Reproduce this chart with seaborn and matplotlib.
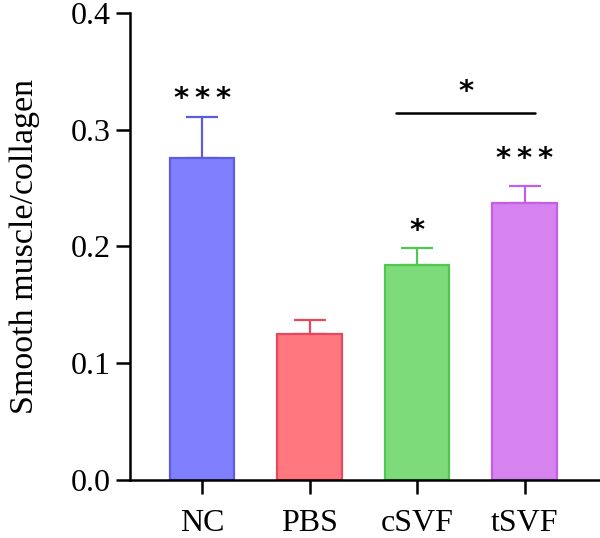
import matplotlib
matplotlib.use('Agg')
import matplotlib.pyplot as plt
import pandas as pd
import seaborn as sns

# 数据
groups = ['NC', 'PBS', 'cSVF', 'tSVF']
means = [0.276, 0.125, 0.184, 0.237]
sems = [0.035, 0.012, 0.015, 0.015]
stars = ['*\u2009*\u2009*', '', '*', '*\u2009*\u2009*']
fills = ['#8080ff', '#ff7880', '#7ddb7a', '#d683f0']
edges = ['#5c5ce3', '#e8485e', '#4fc84f', '#c35ee6']

sns.set_style('ticks')
plt.rcParams['font.family'] = ['Liberation Serif', 'DejaVu Serif']
plt.rcParams['text.color'] = 'black'
plt.rcParams['xtick.color'] = 'black'
plt.rcParams['ytick.color'] = 'black'
plt.rcParams['axes.labelcolor'] = 'black'

df = pd.DataFrame({'group': groups, 'value': means})

fig = plt.figure(figsize=(6, 5.38), dpi=100)
ax = fig.add_axes([0.2167, 0.108, 0.7833, 0.868])

sns.barplot(data=df, x='group', y='value', hue='group', palette=fills,
            saturation=1, width=0.6, errorbar=None, legend=False, ax=ax, zorder=2)
for patch, ec in zip(ax.patches, edges):
    patch.set_edgecolor(ec)
    patch.set_linewidth(1.6)

# 星号离误差线顶端的距离
star_gap = [0.008, 0, 0.007, 0.016]
for i in range(len(groups)):
    ax.errorbar(i, means[i], yerr=[[0], [sems[i]]], fmt='none',
                ecolor=edges[i], elinewidth=1.6, capsize=11.5, capthick=1.6, zorder=1)
    if stars[i]:
        ax.text(i, means[i] + sems[i] + star_gap[i], stars[i], ha='center', va='baseline',
                fontsize=21, fontweight='bold', family='DejaVu Sans')

# 显著性横线
ax.plot([1.8, 3.1], [0.314, 0.314], color='black', lw=1.8)
ax.text(2.45, 0.325, '*', ha='center', va='baseline', fontsize=21,
        fontweight='bold', family='DejaVu Sans')

ax.set_xlim(-0.67, 3.7)
ax.set_ylim(0, 0.4)
ax.set_yticks([0.0, 0.1, 0.2, 0.3, 0.4])
ax.set_yticklabels(['0.0', '0.1', '0.2', '0.3', '0.4'])
ax.set_xlabel('')
ax.set_ylabel('Smooth muscle/collagen', fontsize=24.5, labelpad=22)
ax.tick_params(axis='both', labelsize=23, width=1.8, length=10, color='black')
ax.tick_params(axis='x', pad=11)
ax.tick_params(axis='y', pad=4)
for s in ['left', 'bottom']:
    ax.spines[s].set_linewidth(1.8)
    ax.spines[s].set_color('black')
sns.despine(ax=ax)

fig.savefig('out.png', dpi=100)
